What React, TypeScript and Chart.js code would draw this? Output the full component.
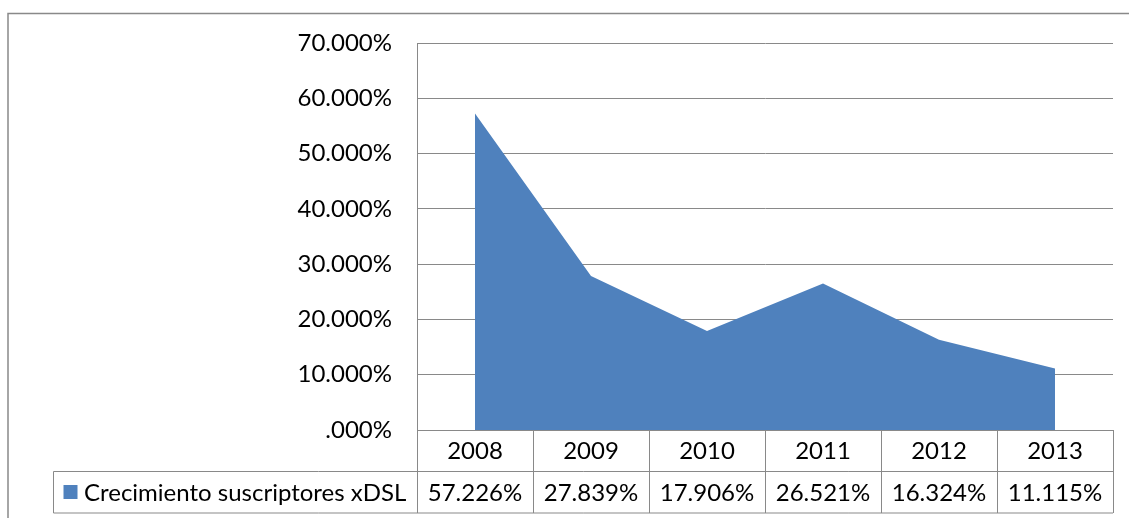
import React, { useEffect, useRef } from "react";
import { Chart, registerables } from "chart.js";

Chart.register(...registerables);

const categories: string[] = ["2008", "2009", "2010", "2011", "2012", "2013"];
const seriesName = "Crecimiento suscriptores xDSL";
const growthValues: number[] = [57.226, 27.839, 17.906, 26.521, 16.324, 11.115];
const yTicks: number[] = [0, 10, 20, 30, 40, 50, 60, 70];

const AREA_COLOR = "#4F81BD";
const LINE_COLOR = "#898989";
const FONT = "Lato, 'DejaVu Sans', sans-serif";
const FONT_SIZE = 24;

const fmtPct = (v: number) => (v === 0 ? ".000%" : v.toFixed(3) + "%");

const tablePlugin = {
  id: "dataTable",
  beforeDraw(chart: any) {
    const ctx = chart.ctx;
    ctx.save();
    ctx.fillStyle = "#ffffff";
    ctx.fillRect(0, 0, chart.width, chart.height);
    // outer frame
    ctx.strokeStyle = LINE_COLOR;
    ctx.lineWidth = 1.5;
    ctx.beginPath();
    ctx.moveTo(8, chart.height + 5);
    ctx.lineTo(8, 13.5);
    ctx.lineTo(chart.width + 5, 13.5);
    ctx.stroke();
    ctx.restore();
  },
  afterDraw(chart: any) {
    const ctx = chart.ctx;
    const area = chart.chartArea;
    const n = categories.length;
    const cw = (area.right - area.left) / n;
    const top = area.bottom;
    const mid = 471.5;
    const bottom = 513;
    const legendLeft = 53.5;
    ctx.save();
    ctx.strokeStyle = LINE_COLOR;
    ctx.lineWidth = 1;
    ctx.beginPath();
    for (let i = 0; i <= n; i++) {
      const x = Math.round(area.left + i * cw) + 0.5;
      ctx.moveTo(x, top);
      ctx.lineTo(x, bottom);
    }
    ctx.moveTo(area.left, top + 0.5);
    ctx.lineTo(area.right, top + 0.5);
    ctx.moveTo(legendLeft, mid);
    ctx.lineTo(area.right, mid);
    ctx.moveTo(legendLeft, bottom);
    ctx.lineTo(area.right, bottom);
    ctx.moveTo(legendLeft, mid);
    ctx.lineTo(legendLeft, bottom);
    ctx.stroke();

    ctx.fillStyle = "#000000";
    ctx.font = `${FONT_SIZE}px ${FONT}`;
    ctx.textAlign = "center";
    ctx.textBaseline = "middle";
    const yearY = (top + mid) / 2 + 1;
    const valY = (mid + bottom) / 2 + 1;
    for (let i = 0; i < n; i++) {
      const cx = area.left + (i + 0.5) * cw;
      ctx.fillText(categories[i], cx, yearY);
      ctx.fillText(fmtPct(growthValues[i]), cx, valY);
    }
    // legend key
    ctx.fillStyle = AREA_COLOR;
    ctx.fillRect(63.5, 485, 14, 14);
    ctx.fillStyle = "#000000";
    ctx.textAlign = "left";
    ctx.fillText(seriesName, 84, valY);
    ctx.restore();
  },
};

export default function App() {
  const canvasRef = useRef<HTMLCanvasElement | null>(null);

  useEffect(() => {
    if (!canvasRef.current) return;
    const chart = new Chart(canvasRef.current, {
      type: "line",
      data: {
        labels: categories,
        datasets: [
          {
            label: seriesName,
            data: growthValues,
            fill: "origin",
            backgroundColor: AREA_COLOR,
            borderColor: AREA_COLOR,
            borderWidth: 0,
            pointRadius: 0,
            pointHoverRadius: 0,
            tension: 0,
          },
        ],
      },
      options: {
        responsive: false,
        devicePixelRatio: 1,
        animation: false,
        events: [],
        layout: { padding: { top: 43, bottom: 88, right: 16, left: 0 } },
        plugins: {
          legend: { display: false },
          tooltip: { enabled: false },
        },
        scales: {
          x: {
            type: "category",
            offset: true,
            display: false,
          },
          y: {
            min: 0,
            max: 70,
            afterFit: (scale: any) => {
              scale.width = 417;
            },
            afterBuildTicks: (scale: any) => {
              scale.ticks = yTicks.map((v) => ({ value: v }));
            },
            grid: {
              color: LINE_COLOR,
              lineWidth: 1,
              drawTicks: false,
            },
            border: { display: true, color: LINE_COLOR, width: 1 },
            ticks: {
              padding: 25,
              color: "#000000",
              font: { family: FONT, size: FONT_SIZE },
              callback: (v: any) => fmtPct(Number(v)),
            },
          },
        },
      },
      plugins: [tablePlugin],
    });
    return () => chart.destroy();
  }, []);

  return (
    <div style={{ position: "absolute", left: 0, top: 0, width: 1129, height: 518, background: "#fff" }}>
      <canvas ref={canvasRef} width={1129} height={518} style={{ display: "block" }} />
    </div>
  );
}
